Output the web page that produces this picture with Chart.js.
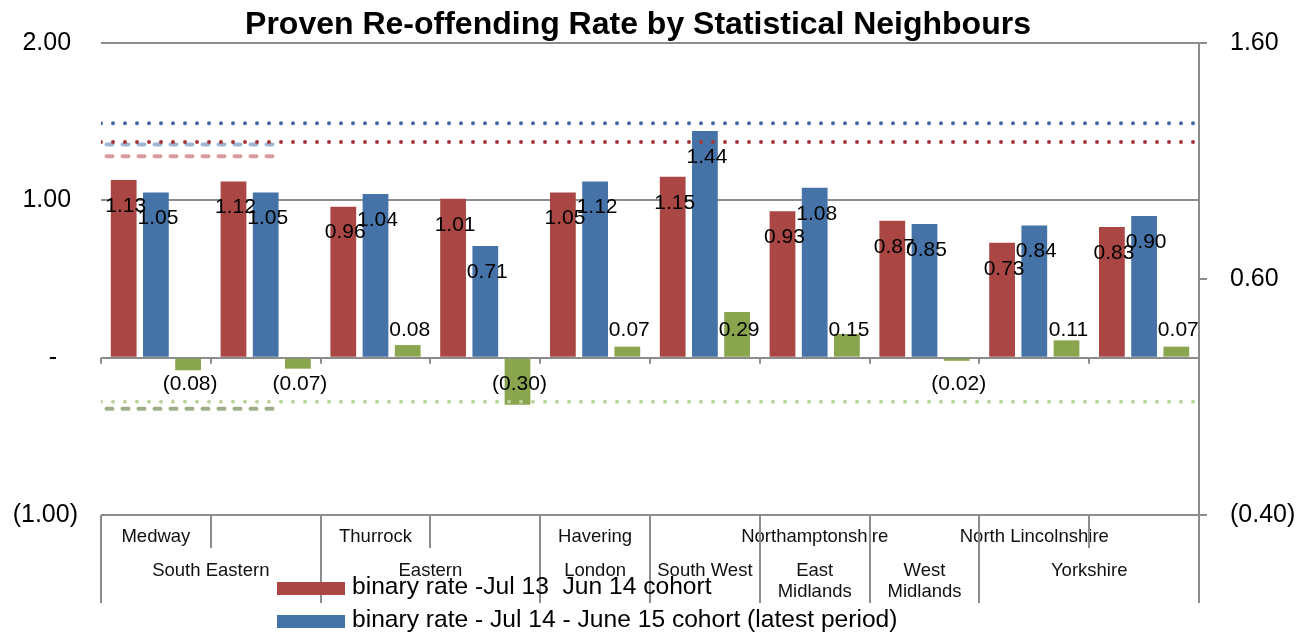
<!DOCTYPE html>
<html>
<head>
<meta charset="utf-8">
<title>Proven Re-offending Rate by Statistical Neighbours</title>
<script src="https://cdn.jsdelivr.net/npm/chart.js@4.4.1/dist/chart.umd.min.js"></script>
<style>
  html, body { margin: 0; padding: 0; background: #fff; }
</style>
</head>
<body>
<canvas id="reoffendingChart" width="1306" height="637"></canvas>
<script>
// ------------------------------------------------
// Data
// ------------------------------------------------
const TITLE = 'Proven Re-offending Rate by Statistical Neighbours';

const AREAS   = ['Medway', '', 'Thurrock', '', 'Havering', '', 'Northamptonshire', '', 'North Lincolnshire', ''];
const REGIONS = ['South Eastern', 'Eastern', 'London', 'South West', 'East\nMidlands', 'West\nMidlands', 'Yorkshire'];
const REGION_SPANS = [2, 2, 1, 1, 1, 1, 2];

const RATE_1314 = [1.13, 1.12, 0.96, 1.01, 1.05, 1.15, 0.93, 0.87, 0.73, 0.83];
const RATE_1415 = [1.05, 1.05, 1.04, 0.71, 1.12, 1.44, 1.08, 0.85, 0.84, 0.90];
const RATE_DIFF = [-0.08, -0.07, 0.08, -0.30, 0.07, 0.29, 0.15, -0.02, 0.11, 0.07];

// reference lines, right-hand axis (x given in category units)
const NATIONAL_1314 = 1.18;
const NATIONAL_1415 = 1.26;
const NATIONAL_DIFF = 0.08;
const NATIONAL_SPAN = [0, 10];
const REGION_1314 = 1.12;
const REGION_1415 = 1.17;
const REGION_DIFF = 0.05;
const REGION_LINE_SPAN = [0.05, 1.58];

const LEFT_TICKS  = [-1, 0, 1, 2];
const RIGHT_TICKS = [-0.4, 0.6, 1.6];

const FONT = "'Liberation Sans', Arial, sans-serif";
const GREY = '#8c8c8c';

const fmt = v => v < 0 ? `(${Math.abs(v).toFixed(2)})` : v.toFixed(2);
// category i sits in the middle of its slot on the linear x axis
const toPoints = values => values.map((y, i) => ({ x: i + 0.5, y }));

// ------------------------------------------------
// Plugins
// ------------------------------------------------
const barLabels = {
    id: 'barLabels',
    afterDatasetsDraw(chart) {
        const { ctx } = chart;
        ctx.save();
        ctx.font = `21px ${FONT}`;
        ctx.fillStyle = '#000';
        ctx.textAlign = 'center';
        ctx.textBaseline = 'middle';
        chart.data.datasets.forEach((ds, i) => {
            if (ds.type !== 'bar') return;
            chart.getDatasetMeta(i).data.forEach((bar, j) => {
                const v = ds.data[j].y;
                let y;
                if (i < 2) y = bar.y + 26;
                else y = v >= 0 ? bar.base - 26 : bar.base + 26;
                ctx.fillText(fmt(v), bar.x + 2, y);
            });
        });
        ctx.restore();
    }
};

const categoryTable = {
    id: 'categoryTable',
    afterDraw(chart) {
        const { ctx, chartArea: a } = chart;
        const xs = chart.scales.x;
        const n = AREAS.length;
        const yTop = a.bottom, yMid = a.bottom + 33, yBot = a.bottom + 88;
        const y0 = chart.scales.y.getPixelForValue(0);

        ctx.save();
        // text first, the lines run over it
        ctx.fillStyle = '#111';
        ctx.textAlign = 'center';
        ctx.textBaseline = 'middle';
        ctx.font = `18.5px ${FONT}`;
        AREAS.forEach((t, i) => {
            if (t) ctx.fillText(t, xs.getPixelForValue(i + 0.5), a.bottom + 22);
        });
        let start = 0;
        REGIONS.forEach((name, k) => {
            const cx = xs.getPixelForValue(start + REGION_SPANS[k] / 2);
            name.split('\n').forEach((line, l) => ctx.fillText(line, cx, a.bottom + 56 + l * 21));
            start += REGION_SPANS[k];
        });

        const full = new Set([0]);
        let acc = 0;
        REGION_SPANS.forEach(s => { acc += s; full.add(acc); });

        ctx.strokeStyle = GREY;
        ctx.lineWidth = 2;
        for (let i = 0; i <= n; i++) {
            const x = Math.round(xs.getPixelForValue(i));
            ctx.beginPath();
            ctx.moveTo(x, yTop);
            ctx.lineTo(x, full.has(i) ? yBot : yMid);
            ctx.stroke();
            ctx.beginPath();
            ctx.moveTo(x, y0);
            ctx.lineTo(x, y0 + 6);
            ctx.stroke();
        }
        ctx.restore();
    }
};

const bottomLegend = {
    id: 'bottomLegend',
    afterDraw(chart) {
        const { ctx } = chart;
        const rows = [588, 621];
        ctx.save();
        ctx.font = `24.6px ${FONT}`;
        ctx.textBaseline = 'middle';
        ctx.textAlign = 'left';
        [0, 1].forEach((idx, r) => {
            const ds = chart.data.datasets[idx];
            ctx.fillStyle = ds.backgroundColor;
            ctx.fillRect(277, rows[r] - 6, 68, 13);
            ctx.fillStyle = '#000';
            ctx.fillText(ds.label, 352, rows[r] - 1);
        });
        ctx.restore();
    }
};

const chartTitle = {
    id: 'chartTitle',
    afterDraw(chart) {
        const { ctx, chartArea: a } = chart;
        ctx.save();
        ctx.font = `bold 32px ${FONT}`;
        ctx.fillStyle = '#000';
        ctx.textAlign = 'center';
        ctx.textBaseline = 'middle';
        ctx.fillText(TITLE, (a.left + a.right) / 2 - 12, 25);
        ctx.restore();
    }
};

// ------------------------------------------------
// Chart
// ------------------------------------------------
const refLine = (label, value, span, color, dash) => ({
    type: 'line',
    label,
    data: span.map(x => ({ x, y: value })),
    xAxisID: 'x',
    yAxisID: 'y2',
    borderColor: color,
    borderWidth: 4,
    borderDash: dash,
    borderCapStyle: 'round',
    pointRadius: 0,
    fill: false,
    order: 0
});

const bars = (label, values, color) => ({
    type: 'bar',
    label,
    data: toPoints(values),
    backgroundColor: color,
    xAxisID: 'x',
    yAxisID: 'y',
    categoryPercentage: 0.88,
    barPercentage: 0.8,
    order: 1
});

new Chart(document.getElementById('reoffendingChart').getContext('2d'), {
    type: 'bar',
    data: {
        datasets: [
            bars('binary rate -Jul 13  Jun 14 cohort', RATE_1314, '#AA4643'),
            bars('binary rate - Jul 14 - June 15 cohort (latest period)', RATE_1415, '#4572A7'),
            bars('Change', RATE_DIFF, '#89A54E'),
            refLine('National Jul 14 - Jun 15', NATIONAL_1415, NATIONAL_SPAN, '#3E69A3', [0, 12]),
            refLine('National Jul 13 - Jun 14', NATIONAL_1314, NATIONAL_SPAN, '#A3373A', [0, 12]),
            refLine('National change', NATIONAL_DIFF, NATIONAL_SPAN, '#BBD49C', [0, 12]),
            refLine('Region Jul 14 - Jun 15', REGION_1415, REGION_LINE_SPAN, '#A0B7D8', [6, 10]),
            refLine('Region Jul 13 - Jun 14', REGION_1314, REGION_LINE_SPAN, '#D99C9B', [6, 10]),
            refLine('Region change', REGION_DIFF, REGION_LINE_SPAN, '#9DAD88', [6, 10])
        ]
    },
    options: {
        responsive: false,
        animation: false,
        devicePixelRatio: 1,
        layout: { padding: { top: 43, bottom: 122, left: 0, right: 0 } },
        plugins: {
            legend: { display: false },
            title: { display: false },
            tooltip: { enabled: false }
        },
        scales: {
            x: {
                type: 'linear',
                display: false,
                min: 0, max: AREAS.length,
                offset: false,
                grid: { offset: false },
                ticks: { stepSize: 1 }
            },
            y: {
                position: 'left',
                min: -1, max: 2,
                afterBuildTicks: s => { s.ticks = LEFT_TICKS.map(value => ({ value })); },
                afterFit: s => { s.width = 101; },
                grid: { color: GREY, lineWidth: 2, drawTicks: false },
                border: { display: false },
                ticks: {
                    color: '#000',
                    font: { family: FONT, size: 25 },
                    padding: 23,
                    callback: v => v === 0 ? '-   ' : (v > 0 ? fmt(v) + ' ' : fmt(v))
                }
            },
            y2: {
                position: 'right',
                min: -0.4, max: 1.6,
                afterBuildTicks: s => { s.ticks = RIGHT_TICKS.map(value => ({ value })); },
                afterFit: s => { s.width = 107; },
                grid: { drawOnChartArea: false, color: GREY, lineWidth: 2, tickLength: 8 },
                border: { display: true, color: GREY, width: 2 },
                ticks: {
                    color: '#000',
                    font: { family: FONT, size: 25 },
                    padding: 23,
                    callback: v => fmt(v)
                }
            }
        }
    },
    plugins: [barLabels, categoryTable, bottomLegend, chartTitle]
});
</script>
</body>
</html>
